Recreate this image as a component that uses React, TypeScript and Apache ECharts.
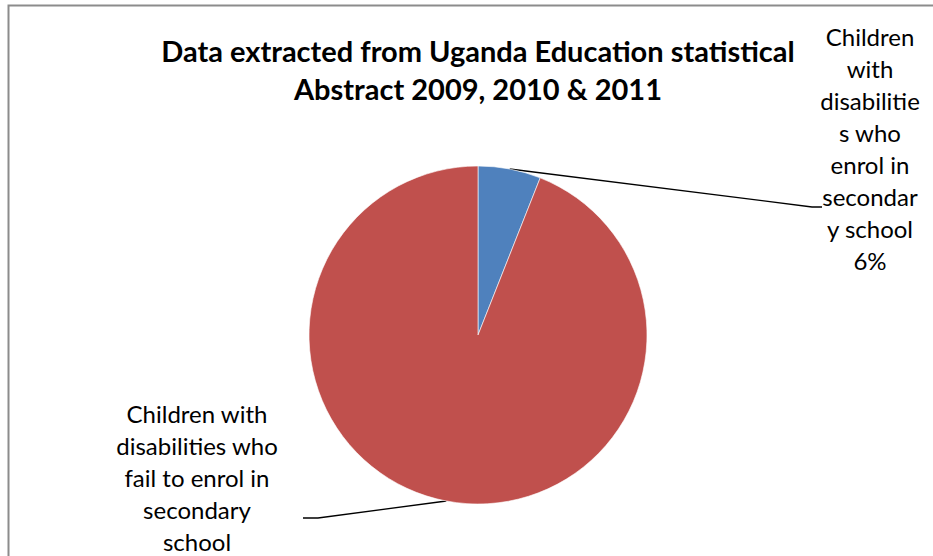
import React, { useEffect, useRef } from "react";
import * as echarts from "echarts";

const titleLines = ["Data extracted from Uganda Education statistical", "Abstract 2009, 2010 & 2011"];
const categories = [
  "Children with disabilities who enrol in secondary school",
  "Children with disabilities who fail to enrol in secondary school",
];
const labelLines = [
  ["Children", "with", "disabilitie", "s who", "enrol in", "secondar", "y school"],
  ["Children with", "disabilities who", "fail to enrol in", "secondary", "school"],
];
const values = [6, 94];
const showPercent = [true, false];
const colors = ["#4F81BD", "#C0504D"];

// label placement (layout only)
const labelPos = [
  { x: 870, y: 148, lineEndX: 822, lineMidX: 812, lineY: 207 },
  { x: 197, y: 477, lineEndX: 303, lineMidX: 318, lineY: 518 },
];

export default function App() {
  const ref = useRef<HTMLDivElement>(null);
  useEffect(() => {
    if (!ref.current) return;
    const chart = echarts.init(ref.current, null, { renderer: "svg" });
    const font = "Lato, 'Noto Sans', sans-serif";
    chart.setOption({
      animation: false,
      backgroundColor: "#ffffff",
      title: {
        text: titleLines.join("\n"),
        left: 478,
        top: 31,
        padding: 0,
        textAlign: "center",
        textStyle: {
          fontFamily: font,
          fontSize: 29,
          fontWeight: "bold",
          color: "#000",
          lineHeight: 38,
        },
      },
      graphic: [
        {
          type: "polyline",
          shape: { points: [[8.5, 560], [8.5, 5.5], [940, 5.5]] },
          style: { stroke: "#8c8c8c", lineWidth: 2, fill: "none" },
          silent: true,
        },
      ],
      series: [
        {
          type: "pie",
          center: [478, 335],
          radius: 169,
          startAngle: 90,
          clockwise: true,
          color: colors,
          itemStyle: { borderColor: "#ffffff", borderWidth: 0.6 },
          data: categories.map((name, i) => ({ name, value: values[i] })),
          label: {
            show: true,
            fontFamily: font,
            fontSize: 24,
            lineHeight: 32,
            color: "#000",
            align: "center",
            formatter: (p: any) =>
              labelLines[p.dataIndex].join("\n") +
              (showPercent[p.dataIndex] ? "\n" + Math.round(p.percent) + "%" : ""),
          },
          labelLine: {
            show: true,
            lineStyle: { color: "#000", width: 1.3 },
          },
          labelLayout: (params: any) => {
            const pos = labelPos[params.dataIndex];
            const start = params.labelLinePoints ? params.labelLinePoints[0] : [0, 0];
            return {
              x: pos.x,
              y: pos.y,
              align: "center",
              verticalAlign: "middle",
              labelLinePoints: [start, [pos.lineMidX, pos.lineY], [pos.lineEndX, pos.lineY]],
            };
          },
        },
      ],
    });
    return () => chart.dispose();
  }, []);
  return (
    <div
      ref={ref}
      style={{ position: "fixed", left: 0, top: 0, width: 933, height: 556, background: "#fff" }}
    />
  );
}
